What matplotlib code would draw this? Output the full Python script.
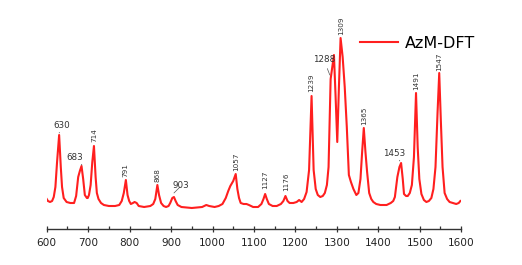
import matplotlib
matplotlib.use("Agg")
import matplotlib.pyplot as plt
import numpy as np

# --------------------------------
# Spectrum data
# --------------------------------
wavenumber = [
    600, 603, 608, 613, 617, 621, 625, 630, 634, 637, 641, 648, 657, 666,
    671, 676, 680, 684, 688, 692, 697, 699, 702, 706, 710, 714, 718, 721,
    725, 731, 738, 750, 765, 775, 781, 786, 791, 795, 799, 803, 808, 812,
    817, 822, 835, 850, 857, 862, 867, 871, 876, 882, 888, 894, 898, 903,
    907, 911, 916, 925, 950, 975, 985, 992, 1005, 1015, 1024, 1032, 1038,
    1043, 1050, 1056, 1060, 1064, 1068, 1075, 1082, 1088, 1098, 1110, 1118,
    1123, 1127, 1131, 1136, 1145, 1155, 1165, 1171, 1176, 1181, 1186, 1195,
    1203, 1209, 1215, 1221, 1227, 1233, 1239, 1244, 1249, 1254, 1260, 1266,
    1271, 1276, 1280, 1285, 1289, 1293, 1297, 1301, 1305, 1309, 1314, 1319,
    1324, 1329, 1334, 1340, 1347, 1352, 1357, 1361, 1365, 1369, 1373, 1378,
    1383, 1388, 1395, 1405, 1420, 1430, 1436, 1440, 1446, 1451, 1455, 1459,
    1462, 1467, 1471, 1476, 1481, 1486, 1491, 1495, 1499, 1504, 1510, 1516,
    1522, 1528, 1533, 1538, 1543, 1547, 1551, 1555, 1560, 1566, 1572, 1580,
    1588, 1594, 1598,
]
intensity = [
    8, 6, 5, 6, 10, 20, 45, 72, 40, 20, 9, 5, 4, 4,
    11, 30, 36, 41, 28, 12, 9, 9, 12, 22, 45, 61, 30, 14,
    8, 4, 2, 1, 1, 2, 6, 14, 27, 12, 6, 3, 4, 5,
    4, 1, 0, 1, 3, 8, 22, 12, 4, 1, 0, 1, 4, 9,
    10, 6, 2, 0, -1, 0, 2, 1, 0, 1, 3, 9, 16,
    21, 26, 33, 18, 9, 4, 3, 3, 2, 0, 0, 3,
    8, 13, 8, 3, 1, 1, 3, 6, 11, 6, 4, 4,
    5, 7, 5, 8, 15, 37, 111, 37, 18, 12, 10, 11,
    14, 22, 40, 128, 140, 152, 110, 65, 120, 169, 150, 120,
    80, 32, 25, 18, 12, 14, 28, 55, 79, 55, 35, 14,
    8, 5, 3, 2, 2, 4, 6, 10, 30, 40, 44, 28,
    13, 11, 11, 14, 22, 50, 114, 60, 28, 13, 7, 5,
    6, 9, 18, 40, 95, 134, 85, 40, 14, 8, 5, 4,
    3, 4, 6,
]

# vertical peak labels: text, x, bottom of text
vert_labels = ['714', '791', '868', '1057', '1127', '1176', '1239', '1309', '1365', '1491', '1547']
vert_x = [714, 791, 867, 1057, 1127, 1177, 1239, 1311, 1365, 1492, 1547]
vert_y = [65, 30, 25, 36, 18, 16, 115, 172, 82, 117, 136]

# horizontal peak labels with short leader lines
hor_labels = ['630', '683', '903', '1288', '1453']
hor_text_x = [637, 668, 924, 1269, 1438]
hor_text_y = [82, 50, 21, 147, 54]
hor_tip_x = [630, 685, 907, 1283, 1452]
hor_tip_y = [74, 42, 14, 132, 46]

red = '#ff1f1f'
label_col = '#333333'

fig = plt.figure(figsize=(5.22, 2.65), dpi=100)
ax = fig.add_axes([46.7 / 522, 36 / 265, 414.5 / 522, 209 / 265])

line, = ax.plot(wavenumber, intensity, color=red, linewidth=1.5, label='AzM-DFT')

for lab, x, y in zip(vert_labels, vert_x, vert_y):
    ax.text(x, y, lab, rotation=90, ha='center', va='bottom',
            fontsize=5.2, color=label_col)

for lab, tx, ty, px, py in zip(hor_labels, hor_text_x, hor_text_y, hor_tip_x, hor_tip_y):
    ax.annotate(lab, xy=(px, py), xytext=(tx, ty), ha='center', va='center',
                fontsize=6.3, color=label_col,
                arrowprops=dict(arrowstyle='-', color='#555555', lw=0.5,
                                shrinkA=1, shrinkB=0))

ax.set_xlim(600, 1600)
ax.set_ylim(-22, 187)
ax.set_xticks(np.arange(600, 1601, 100))
ax.set_xticks(np.arange(650, 1600, 100), minor=True)
ax.set_yticks([])

for side in ['top', 'right', 'left']:
    ax.spines[side].set_visible(False)
ax.spines['bottom'].set_color('#333333')
ax.spines['bottom'].set_linewidth(1.0)

ax.tick_params(axis='x', which='major', direction='inout', length=5, width=0.9,
               color='#333333', labelsize=7.6, labelcolor='#222222', pad=4)
ax.tick_params(axis='x', which='minor', direction='in', length=2, width=0.9,
               color='#333333')

leg = fig.legend(handles=[line], loc='center left',
                 bbox_to_anchor=(360 / 522, 1 - 43 / 265),
                 frameon=False, fontsize=11.5, handlelength=2.4,
                 handletextpad=0.4, borderpad=0, borderaxespad=0)

fig.savefig('out.png', dpi=100, facecolor='white')
